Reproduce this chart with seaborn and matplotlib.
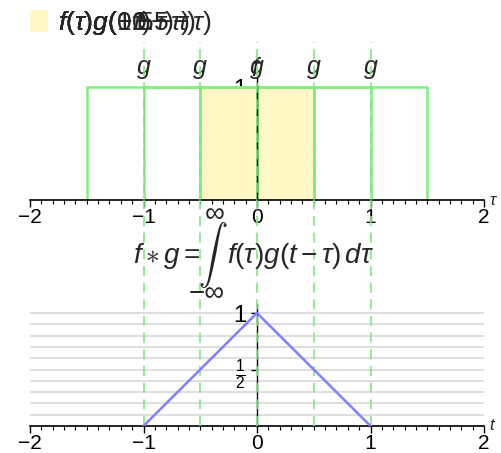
import numpy as np
import matplotlib
matplotlib.use("Agg")
import matplotlib.pyplot as plt
from matplotlib.patches import Patch
from matplotlib.ticker import MultipleLocator
import seaborn as sns

# positions t at which g(t - tau) is shown
shifts = [-1.0, -0.5, 0.0, 0.5, 1.0]
box_half = 0.5
box_height = 1.0
# f(tau) box and the overlap f(tau)g(t - tau) of the current frame
f_center = 0.0
overlap_lo, overlap_hi = -0.5, 0.5
# result (f*g)(t)
conv_t = [-1.0, 0.0, 1.0]
conv_v = [0.0, 1.0, 0.0]
grid_levels = [0.1, 0.2, 0.3, 0.4, 0.5, 0.6, 0.7, 0.8, 0.9, 1.0]
legend_labels = [r"$f(\tau)g(-1-\tau)$", r"$f(\tau)g(-0.5-\tau)$", r"$f(\tau)g(-\tau)$",
                 r"$f(\tau)g(0.5-\tau)$", r"$f(\tau)g(1-\tau)$"]
xticks = [-2, -1, 0, 1, 2]
xtick_labels = ["\u22122", "\u22121", "0", "1", "2"]
yticks = [0.5, 1.0]
ytick_labels = [r"$\frac{1}{2}$", "1"]

GREEN = "#80f080"
DASH = "#7ee87e"
BLUE = "#8080ff"
YELLOW = "#fff8c6"
GREY = "#d4d4d4"

sns.set_theme(style="white")
plt.rcParams["font.family"] = ["Liberation Sans", "DejaVu Sans"]
plt.rcParams["mathtext.fontset"] = "custom"
plt.rcParams["mathtext.rm"] = "Liberation Sans"
plt.rcParams["mathtext.it"] = "Liberation Sans:italic"
plt.rcParams["mathtext.bf"] = "Liberation Sans:bold"

W, H = 501, 453
fig = plt.figure(figsize=(W / 100, H / 100), dpi=100)
fig.patch.set_facecolor("white")


def px(x, y):
    return x / W, 1 - y / H


ax_top = fig.add_axes([30 / W, (H - 200) / H, 454 / W, 1.08 * 113 / H])
ax_bot = fig.add_axes([30 / W, (H - 426) / H, 454 / W, 1.08 * 113 / H])

for ax, name in [(ax_top, r"$\tau$"), (ax_bot, "$t$")]:
    ax.set_facecolor("none")
    ax.set_xlim(-2, 2)
    ax.set_ylim(0, 1.08)
    for side in ["top", "right"]:
        ax.spines[side].set_visible(False)
    ax.spines["left"].set_position(("data", 0))
    ax.spines["left"].set_color("black")
    ax.spines["bottom"].set_color("black")
    ax.spines["left"].set_linewidth(1.0)
    ax.spines["bottom"].set_linewidth(1.2)
    ax.set_xticks(xticks, labels=xtick_labels)
    ax.xaxis.set_minor_locator(MultipleLocator(0.1))
    ax.set_yticks(yticks, labels=ytick_labels)
    ax.tick_params(axis="x", which="major", direction="out", length=5, width=1,
                   color="black", labelsize=15, pad=1, bottom=True,
                   labelcolor="black")
    ax.tick_params(axis="x", which="minor", direction="out", length=3, width=0.8,
                   color="black", bottom=True)
    ax.tick_params(axis="y", which="major", direction="out", length=4, width=1,
                   color="black", labelsize=17, pad=4, left=True, labelcolor="black")
    ax.get_yticklabels()[0].set_fontsize(16)
    ax.grid(False)
    ax.text(2.04, 0.0, name, ha="left", va="center", fontsize=12, color="#222222")

# top panel: overlap area, g boxes, f box
ax_top.fill_between([overlap_lo, overlap_hi], 0, box_height, color=YELLOW, lw=0, zorder=1)
for s in shifts + [f_center]:
    lo, hi = s - box_half, s + box_half
    ax_top.plot([lo, lo, hi, hi], [0, box_height, box_height, 0], color=GREEN,
                lw=1.8, zorder=2, solid_joinstyle="miter")
for s in shifts:
    ax_top.text(s, 1.16, "$g$", ha="center", va="center", fontsize=18, clip_on=False)
ax_top.text(f_center, 1.16, "$f$", ha="center", va="center", fontsize=18, clip_on=False)

# bottom panel: reference levels and the convolution
for lev in grid_levels:
    ax_bot.axhline(lev, color=GREY, lw=1.1, zorder=0.5)
sns.lineplot(x=conv_t, y=conv_v, ax=ax_bot, color=BLUE, lw=1.8, zorder=4)
ax_bot.vlines(shifts, 0, 3.40, colors=DASH, lw=1.2, linestyles=(0, (6, 4)),
              clip_on=False, zorder=3)

# legend (several frames overlaid)
patch = Patch(facecolor=YELLOW, edgecolor="none")
for lab in legend_labels:
    fig.legend(handles=[patch], labels=[lab], loc="upper left",
               bbox_to_anchor=px(30, 9), frameon=False, fontsize=19,
               handlelength=0.7, handleheight=0.95, handletextpad=0.35,
               borderpad=0, borderaxespad=0)

# formula
fig.text(*px(201, 256), r"$f\ast g=$", ha="right", va="center", fontsize=20)
fig.text(*px(213, 255), r"$\int$", ha="center", va="center", fontsize=21,
         math_fontfamily="cm")
fig.text(*px(215, 215), "\u221e", ha="center", va="center", fontsize=20)
fig.text(*px(207, 294), "\u2212\u221e", ha="center", va="center", fontsize=20)
fig.text(*px(227, 256), r"$f(\tau)g(t-\tau)\,d\tau$", ha="left", va="center", fontsize=20)

fig.savefig("out.png", dpi=100)
